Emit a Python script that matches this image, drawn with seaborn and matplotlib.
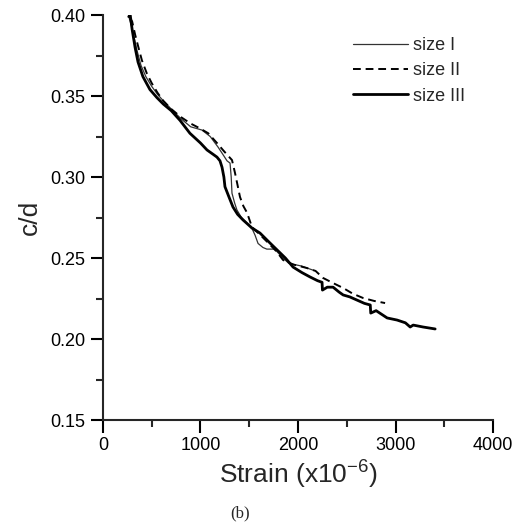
import pandas as pd
import seaborn as sns
import matplotlib.pyplot as plt
from matplotlib.ticker import MultipleLocator

# size I (thin line)
strain_1 = [270, 290, 320, 350, 390, 440, 500, 560, 620, 700, 800, 900, 1015, 1100,
            1180, 1240, 1272, 1303, 1315, 1323, 1350, 1374, 1420, 1477, 1530, 1560, 1590,
            1640, 1680, 1760, 1846, 1900, 1960, 2040, 2092, 2150]
cd_1 = [0.398, 0.394, 0.386, 0.378, 0.369, 0.362, 0.356, 0.351, 0.347, 0.342, 0.336,
        0.331, 0.329, 0.325, 0.3185, 0.313, 0.310, 0.3086, 0.300, 0.290, 0.284, 0.2796,
        0.275, 0.2716, 0.268, 0.264, 0.259, 0.2565, 0.2555, 0.2555, 0.250, 0.247, 0.246,
        0.245, 0.2438, 0.2426]

# size II (dashed)
strain_2 = [280, 300, 330, 360, 400, 450, 500, 560, 620, 700, 800, 900, 995, 1080, 1169,
            1240, 1300, 1323, 1354, 1380, 1405, 1440, 1477, 1528, 1600, 1700, 1780, 1846,
            1950, 2092, 2180, 2256, 2360, 2462, 2560, 2667, 2780, 2892]
cd_2 = [0.398, 0.396, 0.388, 0.381, 0.372, 0.364, 0.358, 0.352, 0.347, 0.342, 0.337, 0.333,
        0.330, 0.327, 0.321, 0.316, 0.312, 0.3105, 0.3025, 0.295, 0.2877, 0.282, 0.278,
        0.2691, 0.265, 0.259, 0.254, 0.2488, 0.246, 0.2438, 0.242, 0.2377, 0.2345, 0.2315,
        0.228, 0.2253, 0.2235, 0.2222]

# size III (thick)
strain_3 = [265, 280, 300, 330, 360, 410, 482, 554, 620, 700, 790, 892, 1000,
            1067, 1130, 1169, 1200, 1221, 1240, 1251, 1290, 1333, 1380, 1436, 1528, 1610,
            1700, 1785, 1870, 1949, 2040, 2123, 2200, 2246, 2250, 2300, 2359, 2420, 2462,
            2530, 2605, 2680, 2740, 2745, 2800, 2913, 3015, 3100, 3149, 3180, 3282, 3405]
cd_3 = [0.399, 0.400, 0.391, 0.380, 0.371, 0.362, 0.354, 0.349, 0.345, 0.341, 0.335,
        0.327, 0.321, 0.3167, 0.314, 0.3123, 0.310, 0.306, 0.300, 0.294,
        0.288, 0.2815, 0.277, 0.2735, 0.2685, 0.2654, 0.260, 0.255, 0.250, 0.2444, 0.241,
        0.2383, 0.236, 0.235, 0.2302, 0.232, 0.232, 0.229, 0.2272, 0.226, 0.224, 0.222,
        0.221, 0.216, 0.2175, 0.2130, 0.2117, 0.210, 0.2074, 0.2086, 0.2074, 0.2062]

labels = ['size I', 'size II', 'size III']

sns.set_style('ticks')
plt.rcParams['font.family'] = ['Liberation Sans', 'DejaVu Sans']
plt.rcParams['mathtext.fontset'] = 'custom'
plt.rcParams['mathtext.rm'] = 'Liberation Sans'

fig = plt.figure(figsize=(5.17, 5.22), dpi=100)
ax = fig.add_axes([0.199, 0.1954, 0.755, 0.7758])

sns.lineplot(x=strain_1, y=cd_1, sort=False, color='#333333', lw=0.9, label=labels[0], ax=ax)
sns.lineplot(x=strain_2, y=cd_2, sort=False, color='black', lw=1.4, ls=(0, (4, 2.5)),
             label=labels[1], ax=ax)
sns.lineplot(x=strain_3, y=cd_3, sort=False, color='black', lw=2.0, label=labels[2], ax=ax)

ax.set_xlim(0, 4000)
ax.set_ylim(0.15, 0.40)
ax.set_xticks([0, 1000, 2000, 3000, 4000])
ax.set_yticks([0.15, 0.20, 0.25, 0.30, 0.35, 0.40])
ax.set_yticklabels(['0.15', '0.20', '0.25', '0.30', '0.35', '0.40'])
ax.xaxis.set_minor_locator(MultipleLocator(500))
ax.yaxis.set_minor_locator(MultipleLocator(0.025))
ax.tick_params(which='major', length=9, width=1.5, labelsize=13, colors='black')
ax.tick_params(which='minor', length=5, width=1.5)
for s in ['left', 'bottom']:
    ax.spines[s].set_linewidth(1.5)
sns.despine(ax=ax)

ax.set_xlabel('Strain (x10$^{\\mathrm{-6}}$)', fontsize=19, labelpad=2)
ax.set_ylabel('c/d', fontsize=19, labelpad=6)

leg = ax.legend(loc='upper left', bbox_to_anchor=(0.6, 0.985), frameon=False, fontsize=13,
                handlelength=3.0, handletextpad=0.3, labelspacing=0.45)

fig.text(0.464, 0.008, '(b)', family='Liberation Serif', fontsize=12, ha='center')

fig.savefig('out.png', dpi=100)
